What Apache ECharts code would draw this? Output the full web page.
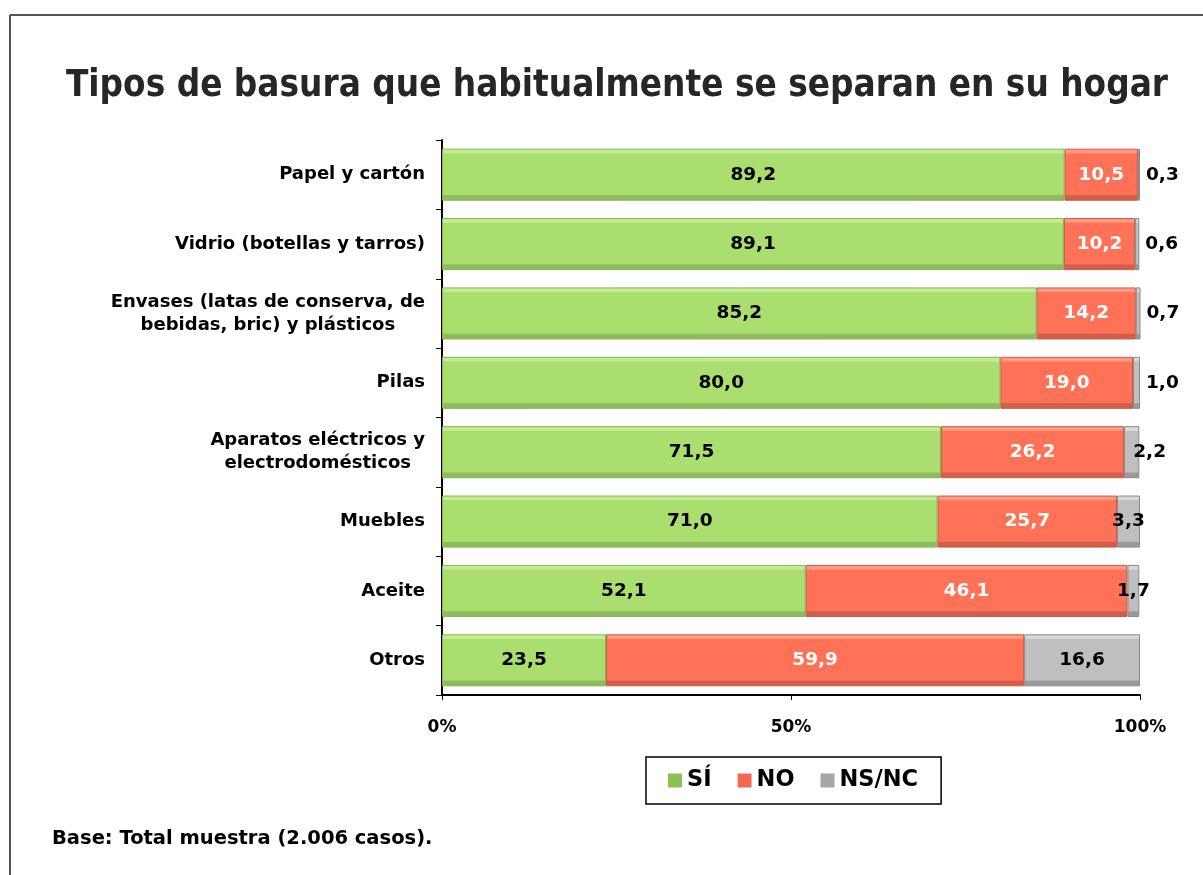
<!DOCTYPE html>
<html lang="es">
<head>
    <meta charset="UTF-8"/>
    <title>Tipos de basura</title>
    <script src="https://cdn.jsdelivr.net/npm/echarts@6/dist/echarts.min.js"></script>
    <style>
        html, body {margin: 0; padding: 0; background: #fff;}
        #chart {width: 1203px; height: 875px;}
    </style>
</head>
<body>
<div id="chart"></div>
<script>
    var categories = [
        "Papel y cartón",
        "Vidrio (botellas y tarros)",
        "Envases (latas de conserva, de\nbebidas, bric) y plásticos",
        "Pilas",
        "Aparatos eléctricos y\nelectrodomésticos",
        "Muebles",
        "Aceite",
        "Otros"
    ];
    var siValues = [89.2, 89.1, 85.2, 80.0, 71.5, 71.0, 52.1, 23.5];
    var noValues = [10.5, 10.2, 14.2, 19.0, 26.2, 25.7, 46.1, 59.9];
    var nsncValues = [0.3, 0.6, 0.7, 1.0, 2.2, 3.3, 1.7, 16.6];
    var xTicks = [0, 50, 100];

    var FONT = "'DejaVu Sans', sans-serif";
    var FONT_TITLE = "'DejaVu Sans Condensed', 'DejaVu Sans', sans-serif";

    function fmt(v) {
        return v.toFixed(1).replace(".", ",");
    }

    function grad(top, mid, bottom) {
        return new echarts.graphic.LinearGradient(0, 0, 0, 1, [
            {offset: 0, color: top},
            {offset: 0.08, color: top},
            {offset: 0.1, color: mid},
            {offset: 0.88, color: mid},
            {offset: 0.9, color: bottom},
            {offset: 1, color: bottom}
        ]);
    }

    var labelBase = {fontFamily: FONT, fontWeight: "bold", fontSize: 18.5};

    // NS/NC: tiny values go outside the bar
    var nsncData = nsncValues.map(function (v, i) {
        var item = {value: v};
        if (v <= 1.0) {
            item.label = {position: "right", distance: 6};
        } else if (i === 4) {
            item.label = {position: "inside", offset: [18, 0]};
        }
        return item;
    });

    var chart = echarts.init(document.getElementById("chart"));
    chart.setOption({
        animation: false,
        backgroundColor: "#fff",
        textStyle: {fontFamily: FONT},
        title: {
            text: "Tipos de basura que habitualmente se separan en su hogar",
            left: 612,
            textAlign: "center",
            top: 63,
            textStyle: {fontFamily: FONT_TITLE, fontSize: 36.5, fontWeight: "bold", color: "#262626"}
        },
        graphic: [
            {type: "line", shape: {x1: 10, y1: 15, x2: 1203, y2: 15}, style: {stroke: "#555", lineWidth: 2}},
            {type: "line", shape: {x1: 10, y1: 15, x2: 10, y2: 875}, style: {stroke: "#555", lineWidth: 2}},
            {
                type: "text", left: 52, top: 829,
                style: {text: "Base: Total muestra (2.006 casos).", font: "bold 19.5px " + FONT, fill: "#000"}
            }
        ],
        legend: {
            left: 646,
            top: 757,
            padding: [12, 23, 12, 22],
            itemGap: 26,
            itemWidth: 14,
            itemHeight: 14,
            itemStyle: {borderWidth: 0},
            borderColor: "#000",
            borderWidth: 1.5,
            textStyle: {fontFamily: FONT, fontSize: 22.5, fontWeight: "bold", color: "#000"},
            data: [
                {name: "SÍ", icon: "rect", itemStyle: {color: "#8cc152"}},
                {name: "NO", icon: "rect", itemStyle: {color: "#ef6a52"}},
                {name: "NS/NC", icon: "rect", itemStyle: {color: "#a6a6a6"}}
            ]
        },
        grid: {left: 442, right: 63, top: 140, bottom: 180},
        xAxis: {
            type: "value",
            min: 0,
            max: 100,
            interval: 50,
            splitLine: {show: false},
            axisLine: {show: true, lineStyle: {color: "#000", width: 2}},
            axisTick: {show: true, length: 5, lineStyle: {color: "#000", width: 1}},
            axisLabel: {
                margin: 24,
                fontFamily: FONT, fontSize: 17, fontWeight: "bold", color: "#000",
                formatter: function (v) {
                    return xTicks.indexOf(v) >= 0 ? v + "%" : "";
                }
            }
        },
        yAxis: {
            type: "category",
            inverse: true,
            data: categories,
            axisLine: {show: true, lineStyle: {color: "#000", width: 2}},
            axisTick: {show: true, length: 6, lineStyle: {color: "#000", width: 1}},
            axisLabel: {
                margin: 17,
                color: "#000",
                formatter: function (v) {
                    return v.split("\n").map(function (l) { return "{c|" + l + "}"; }).join("\n");
                },
                rich: {
                    c: {fontFamily: FONT, fontSize: 18, fontWeight: "bold", color: "#000", align: "center", lineHeight: 23}
                }
            }
        },
        series: [
            {
                name: "SÍ",
                type: "bar",
                stack: "total",
                barCategoryGap: "25%",
                data: siValues,
                itemStyle: {
                    color: grad("#c4ec92", "#aade6e", "#8fbb5a"),
                    borderColor: "#86b450",
                    borderWidth: 1
                },
                label: Object.assign({show: true, position: "inside", color: "#000", formatter: function (p) { return fmt(p.value); }}, labelBase)
            },
            {
                name: "NO",
                type: "bar",
                stack: "total",
                data: noValues,
                itemStyle: {
                    color: grad("#ff9a84", "#ff7258", "#d35e49"),
                    borderColor: "#c85a46",
                    borderWidth: 1
                },
                label: Object.assign({show: true, position: "inside", color: "#fff", formatter: function (p) { return fmt(p.value); }}, labelBase)
            },
            {
                name: "NS/NC",
                type: "bar",
                stack: "total",
                data: nsncData,
                itemStyle: {
                    color: grad("#d9d9d9", "#bfbfbf", "#9a9a9a"),
                    borderColor: "#8a8a8a",
                    borderWidth: 1
                },
                label: Object.assign({show: true, position: "inside", color: "#000", formatter: function (p) { return fmt(p.value); }}, labelBase)
            }
        ]
    });
</script>
</body>
</html>
